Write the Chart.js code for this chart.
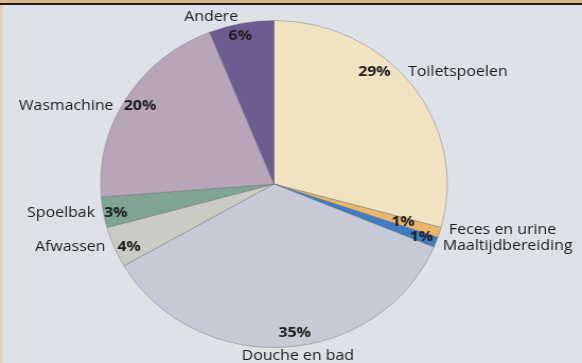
<!DOCTYPE html>
<html>
<head>
<meta charset="utf-8">
<script src="https://cdn.jsdelivr.net/npm/chart.js@4.4.1/dist/chart.umd.min.js"></script>
<style>
  html, body { margin: 0; padding: 0; }
  body {
    width: 582px; height: 363px; overflow: hidden;
    background: linear-gradient(to bottom, #d9b98c 0px, #d9b98c 3px, #1c1c1c 3px, #1c1c1c 5px, #dfe1e9 5px);
  }
  #wrap { position: relative; width: 582px; height: 363px; }
  #edge { position: absolute; left: 0; top: 5px; width: 5px; height: 358px;
          background: linear-gradient(to right, #e6c9ad, rgba(223, 225, 233, 0)); }
  /* the scan is a bit wider than tall, so stretch the drawing */
  #chart { position: absolute; left: 0; top: 0; transform: scaleX(1.06); transform-origin: 0 0; }
</style>
</head>
<body>
<div id="wrap"><div id="edge"></div><canvas id="chart" width="549" height="363"></canvas></div>
<script>
// waterverbruik per toepassing, met de klok mee vanaf boven
const categories = ['Toiletspoelen', 'Feces en urine', 'Maaltijdbereiding', 'Douche en bad',
                    'Afwassen', 'Spoelbak', 'Wasmachine', 'Andere'];
const shares = [29, 1, 1, 35, 4, 3, 20, 6];
const sliceColors = ['#f0e3bf', '#e8b76c', '#3f7cc4', '#c6cad6', '#cacbc5', '#7fa494', '#b8a5ba', '#6e5b92'];

// where the percentage sits: fraction along the slice, fraction of the radius
const labelAt = [0.38, 0.5, 0.5, 0.47, 0.37, 0.41, 0.5, 0.445];
const labelDepth = [0.9, 0.78, 0.91, 0.92, 0.92, 0.93, 0.91, 0.93];

const FONT = '"Open Sans", "DejaVu Sans", sans-serif';

// labels: percentage just inside the rim, name just outside
const sliceLabels = {
    id: 'sliceLabels',
    afterDatasetsDraw(chart) {
        const ctx = chart.ctx;
        const arcs = chart.getDatasetMeta(0).data;
        ctx.save();
        ctx.fillStyle = '#1e1e1e';
        ctx.textBaseline = 'middle';
        arcs.forEach((arc, i) => {
            const { x, y, startAngle, endAngle, outerRadius } = arc.getProps(['x', 'y', 'startAngle', 'endAngle', 'outerRadius'], true);
            const a = startAngle + (endAngle - startAngle) * labelAt[i];
            const cos = Math.cos(a), sin = Math.sin(a);
            const px = x + cos * outerRadius * labelDepth[i];
            const py = y + sin * outerRadius * labelDepth[i];
            ctx.font = 'bold 15px ' + FONT;
            ctx.textAlign = 'center';
            ctx.fillText(shares[i] + '%', px, py);

            ctx.font = '15px ' + FONT;
            if (Math.abs(sin) > 0.85) {
                // top or bottom of the pie
                if (sin < 0) {
                    ctx.textAlign = 'right';
                    ctx.fillText(categories[i], px - 2, y - outerRadius - 4);
                } else {
                    ctx.textAlign = 'center';
                    ctx.fillText(categories[i], px + 3, y + outerRadius + 8);
                }
            } else {
                const ny = (cos > 0 && sin > 0) ? py + sin * 25 : py;
                const dy = Math.min(Math.abs(ny - y), outerRadius);
                const edge = Math.sqrt(outerRadius * outerRadius - dy * dy);
                if (cos > 0) {
                    ctx.textAlign = 'left';
                    ctx.fillText(categories[i], x + edge + 8, ny);
                } else {
                    ctx.textAlign = 'right';
                    ctx.fillText(categories[i], x - edge - 8, ny);
                }
            }
        });
        ctx.restore();
    }
};

new Chart(document.getElementById('chart'), {
    type: 'pie',
    data: {
        labels: categories,
        datasets: [{
            data: shares,
            backgroundColor: sliceColors,
            borderColor: 'rgba(110, 110, 120, 0.45)',
            borderWidth: 1
        }]
    },
    options: {
        responsive: false,
        animation: false,
        layout: { padding: { top: 20, bottom: 15, left: 94.5, right: 126.5 } },
        plugins: {
            legend: { display: false },
            tooltip: { enabled: false }
        }
    },
    plugins: [sliceLabels]
});
</script>
</body>
</html>
